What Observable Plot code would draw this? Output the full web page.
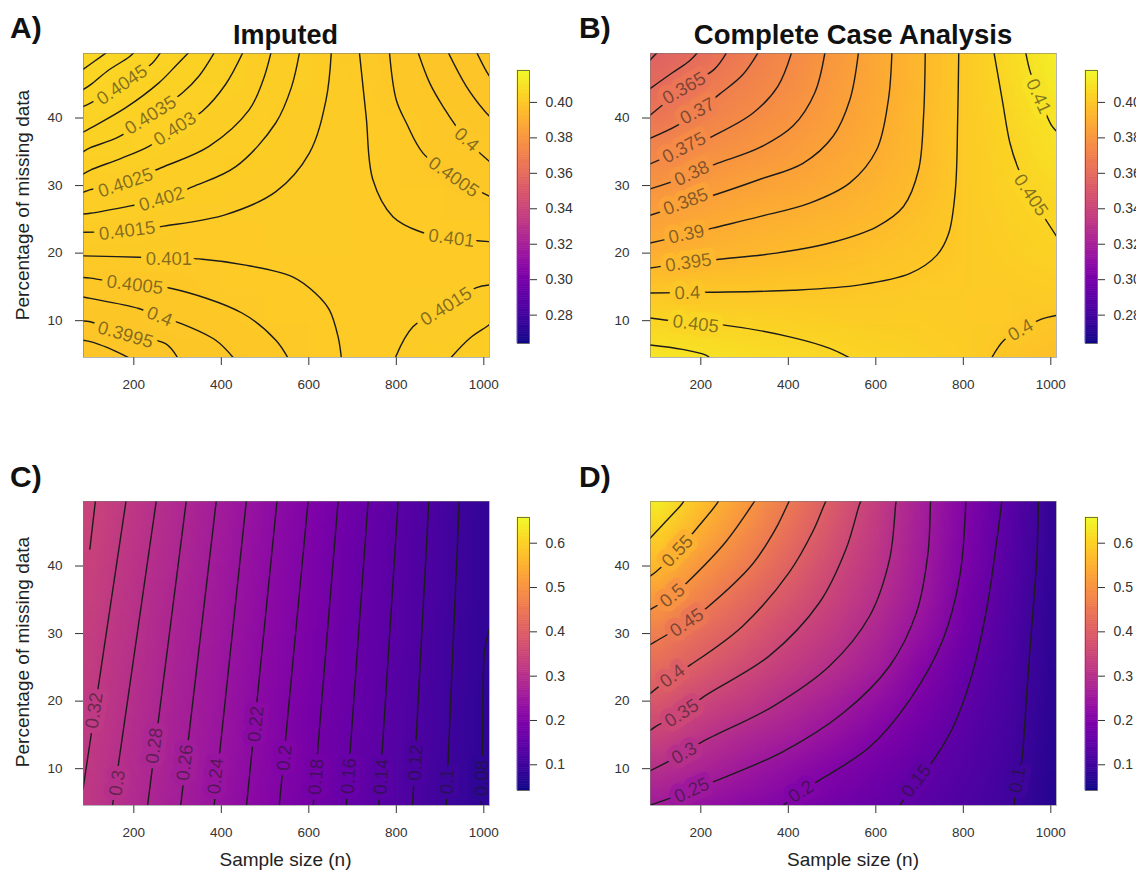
<!DOCTYPE html>
<html><head><meta charset="utf-8">
<script src="https://cdn.jsdelivr.net/npm/d3@7"></script>
<script src="https://cdn.jsdelivr.net/npm/@observablehq/plot@0.6"></script>
<style>
html,body{margin:0;padding:0;background:#fff;overflow:hidden;}
#wrap{position:relative;width:1136px;height:875px;overflow:hidden;font-family:"Liberation Sans",Arial,Helvetica,sans-serif;}
#wrap > svg{position:absolute;margin:0;overflow:visible;}
</style></head><body><div id="wrap"></div>
<script>
// ---------- data ----------
const sampleSizes = [100,200,300,400,500,600,700,800,900,1000];   // grid columns (n)
const missingPct  = [50,45,40,35,30,25,20,15,10,5];                // grid rows (%)
const xTicks = [200,400,600,800,1000];
const yTicks = [10,20,30,40];
const barTicksAB = [0.28,0.30,0.32,0.34,0.36,0.38,0.40];
const barTicksCD = [0.1,0.2,0.3,0.4,0.5,0.6];
const colorDomainAB = [0.264, 0.418];
const colorDomainCD = [0.042, 0.658];

const gridA = [
 0.4058,0.4050,0.4042,0.40337,0.4026,0.40183,0.4011,0.40039,0.39963,0.39888,
 0.4050,0.40434,0.4037,0.40306,0.40247,0.40176,0.40124,0.40046,0.39986,0.39915,
 0.40433,0.40368,0.40316,0.4027,0.40217,0.40163,0.40125,0.4006,0.4001,0.39957,
 0.40345,0.40302,0.40266,0.40227,0.40187,0.40151,0.40125,0.40075,0.40034,0.39997,
 0.40272,0.40237,0.4021,0.40185,0.4016,0.40135,0.4012,0.40089,0.40058,0.4003,
 0.40197,0.40178,0.4016,0.40145,0.40135,0.40128,0.4012,0.40101,0.40082,0.40068,
 0.40106,0.40108,0.40112,0.40115,0.4012,0.40122,0.40122,0.40115,0.40112,0.40113,
 0.40028,0.40046,0.40055,0.4007,0.40083,0.40101,0.4012,0.40125,0.40143,0.4015,
 0.39951,0.39978,0.40003,0.40028,0.40058,0.40077,0.40108,0.40135,0.40155,0.40191,
 0.3988,0.39902,0.3995,0.39985,0.4003,0.4008,0.4010,0.4015,0.40185,0.4023];
const gridB = [
 0.3552,0.3606,0.3678,0.3745,0.3811,0.3876,0.3942,0.4006,0.4071,0.4135,
 0.3602,0.3663,0.3714,0.3763,0.3821,0.3882,0.3943,0.4006,0.4061,0.4123,
 0.3661,0.3711,0.3750,0.3791,0.3839,0.3890,0.3946,0.4006,0.4052,0.4103,
 0.3730,0.3766,0.3797,0.3830,0.3864,0.3901,0.3949,0.4007,0.4045,0.4088,
 0.3797,0.3825,0.3851,0.3872,0.3893,0.3923,0.3959,0.4006,0.4036,0.4064,
 0.3857,0.3877,0.3898,0.3914,0.3930,0.3946,0.3976,0.4007,0.4030,0.4053,
 0.3907,0.3923,0.3939,0.3954,0.3967,0.3981,0.3994,0.4009,0.4025,0.4041,
 0.3988,0.3991,0.3993,0.3995,0.3999,0.4003,0.4008,0.4012,0.4015,0.4019,
 0.4052,0.4046,0.4039,0.4033,0.4027,0.4023,0.4019,0.4013,0.4007,0.3998,
 0.4107,0.4100,0.4078,0.4068,0.4055,0.4045,0.4035,0.4022,0.3990,0.3975];
const gridC = [
 0.3437,0.3150,0.2858,0.2568,0.2280,0.1997,0.1704,0.1414,0.1128,0.0840,
 0.3407,0.3118,0.2831,0.2543,0.2258,0.1977,0.1688,0.1400,0.1117,0.0842,
 0.3376,0.3086,0.2803,0.2518,0.2235,0.1956,0.1671,0.1386,0.1106,0.0844,
 0.3341,0.3054,0.2776,0.2494,0.2214,0.1937,0.1655,0.1373,0.1096,0.0835,
 0.3306,0.3022,0.2748,0.2470,0.2192,0.1917,0.1639,0.1359,0.1085,0.0825,
 0.3273,0.2992,0.2722,0.2447,0.2171,0.1899,0.1624,0.1346,0.1075,0.0812,
 0.3239,0.2962,0.2696,0.2424,0.2150,0.1880,0.1608,0.1333,0.1065,0.0799,
 0.3207,0.2935,0.2670,0.2402,0.2130,0.1862,0.1593,0.1321,0.1055,0.0795,
 0.3175,0.2907,0.2645,0.2380,0.2109,0.1844,0.1577,0.1309,0.1045,0.0790,
 0.3143,0.2881,0.2621,0.2358,0.2089,0.1827,0.1563,0.1297,0.1037,0.0785];
const gridD = [
 0.640,0.5756,0.5143,0.4513,0.3914,0.3294,0.2665,0.2038,0.1429,0.0833,
 0.5983,0.5405,0.4853,0.4308,0.3746,0.3203,0.2631,0.2003,0.1385,0.0832,
 0.561,0.5025,0.4562,0.4054,0.3561,0.3114,0.2576,0.1959,0.1338,0.0825,
 0.5092,0.4646,0.4208,0.3794,0.3397,0.2994,0.2491,0.1858,0.1292,0.0795,
 0.4611,0.4249,0.3896,0.3517,0.318,0.2799,0.2324,0.1744,0.1241,0.0776,
 0.4225,0.3889,0.3549,0.3256,0.2964,0.2603,0.2102,0.1611,0.1196,0.077,
 0.383,0.3482,0.3217,0.2946,0.2653,0.2305,0.1899,0.1494,0.1151,0.0745,
 0.3409,0.3105,0.2847,0.2612,0.2338,0.2029,0.1711,0.1401,0.111,0.073,
 0.2989,0.2743,0.2496,0.2261,0.2026,0.1783,0.1538,0.1303,0.1069,0.0706,
 0.2567,0.2365,0.218,0.1995,0.1805,0.1616,0.1424,0.1229,0.1033,0.068];

// contour lines: [level, [[n, pct], ...]]
const contoursA = [
 [0.4055,[[84,47.2],[110,48.4],[140,49.8]]],
 [0.405,[[84,44.2],[100.7,44.9],[142.7,47.1],[188.5,49.0],[202,49.8]]],
 [0.4045,[[84,41.7],[100.7,42.2],[173.3,44.9],[215,46.8],[242,48.1],[262,49.8]]],
 [0.404,[[84,37.9],[100.7,38.5],[180.9,41.5],[257.3,45.2],[300,48.0],[327,49.8]]],
 [0.4035,[[84,35.0],[100.7,35.6],[165.6,37.2],[238.2,40.4],[310.8,43.7],[350,46.3],[385,49.8]]],
 [0.403,[[84,31.7],[100.7,32.3],[170,34.0],[234.4,35.8],[294,38.4],[356.6,41.0],[410,45.0],[450,49.8]]],
 [0.4025,[[84,29.0],[100.7,29.4],[180.9,30.4],[261.1,32.6],[371.9,35.8],[463.6,41.2],[495,45.5],[514,49.8]]],
 [0.402,[[84,25.8],[100.7,25.9],[192.4,27.0],[263.4,28.0],[333.7,29.8],[433.1,32.8],[524.7,39.3],[560,44.5],[579,49.8]]],
 [0.4015,[[84,23.1],[184.7,23.3],[268.8,24.0],[410.1,25.7],[524.7,29.1],[601.2,34.8],[639.4,42.7],[651.5,49.8]]],
 [0.401,[[84,19.6],[211.5,19.4],[356.6,19.1],[448.3,18.3],[562.9,16.5],[616.4,14.0],[647,11.6],[667,7.6],[674.5,4.4]]],
 [0.4005,[[84,16.4],[100.7,16.3],[202.3,15.3],[284,14.8],[448.3,11.1],[524.7,7.1],[553,4.4]]],
 [0.4,[[84,13.5],[100.7,13.3],[211.5,11.8],[258.8,10.6],[307,9.6],[387.2,7.1],[429,4.4]]],
 [0.3995,[[84,9.95],[100.7,9.85],[180.9,7.9],[272.6,6.6],[301,4.4]]],
 [0.399,[[84,7.1],[100.7,6.9],[140,6.0],[192,4.4]]],
 [0.401,[[715.5,49.8],[731.1,40.2],[746.3,30.9],[792.2,25.4],[853.3,23.2],[925.9,22.2],[1014,21.7]]],
 [0.4005,[[784.2,49.8],[799.8,42.7],[822.7,39.3],[861,34.8],[931,31.25],[1014,28.4]]],
 [0.4,[[849.3,49.8],[876.2,45.2],[906.8,41.7],[960.3,36.8],[1014,33.5]]],
 [0.3995,[[918,49.8],[960,44.7],[1002.3,41.0],[1014,40.2]]],
 [0.399,[[983,49.8],[1006,46.9],[1014,46.1]]],
 [0.4015,[[797,4.4],[838,9.1],[914,12.1],[983.2,14.9],[1014,15.3]]],
 [0.402,[[923,4.4],[968,7.4],[1006,9.1],[1014,9.5]]]
];
const contoursB = [
 [0.355,[[84,48.6],[102,49.8]]],
 [0.36,[[84,44.35],[134.9,46.7],[173.2,48.4],[194,49.8]]],
 [0.365,[[84,40.4],[127.3,42.7],[161.7,44.4],[230.6,47.2],[260,49.8]]],
 [0.37,[[84,37.0],[146.4,38.9],[192.3,41.0],[242.1,43.5],[295.7,46.4],[332,49.8]]],
 [0.375,[[84,33.2],[157.9,35.3],[226.8,37.3],[318.7,40.7],[376.1,44.7],[408,49.8]]],
 [0.38,[[84,29.5],[165.5,31.3],[230.6,33.1],[334,35.6],[410.5,38.8],[460.3,43.7],[484,49.8]]],
 [0.385,[[84,25.6],[165.5,27.3],[230.6,28.6],[334,30.9],[433.5,33.3],[502.4,37.3],[540.7,42.7],[560.5,49.8]]],
 [0.39,[[84,21.5],[165.5,22.7],[226.8,23.7],[334,25.4],[448.8,27.4],[540.7,30.4],[601.9,35.3],[628.7,42.7],[636.8,49.8]]],
 [0.395,[[84,17.8],[173.2,18.6],[242.1,19.1],[372.3,20.0],[494.8,21.5],[601.9,23.9],[663.2,26.9],[697.6,32.3],[709.1,40.2],[713,49.8]]],
 [0.4,[[84,14.1],[219.1,14.2],[410.5,14.5],[563.7,15.3],[678.5,17.0],[739.7,19.7],[766.5,22.9],[781.9,29.4],[787.2,40.2],[789.6,49.8]]],
 [0.405,[[84,10.4],[188.5,9.6],[257.4,9.3],[410.5,7.5],[494.8,5.9],[543,4.4]]],
 [0.41,[[84,6.4],[157.9,5.75],[211.5,4.9],[222,4.4]]],
 [0.405,[[869.8,49.8],[889,42.7],[906.6,36.3],[925,32.6],[954.1,28.6],[1014,22.4]]],
 [0.41,[[942.3,49.8],[952.6,46.9],[973.3,43.2],[1001.6,38.9],[1014,38.0]]],
 [0.4,[[864,4.4],[892.9,7.1],[931.1,8.6],[977.1,10.2],[1014,10.8]]]
];
const contoursC = [
 [0.34,[[99.5,42.5],[112.5,49.8]]],
 [0.32,[[84,7.0],[182.6,49.8]]],
 [0.30,[[151,4.4],[251.7,49.8]]],
 [0.28,[[231.2,4.4],[320.2,49.8]]],
 [0.26,[[306.9,4.4],[388.8,49.8]]],
 [0.24,[[383.3,4.4],[457.5,49.8]]],
 [0.22,[[457.4,4.4],[527.6,49.8]]],
 [0.20,[[532.3,4.4],[598.7,49.8]]],
 [0.18,[[609.8,4.4],[667.2,49.8]]],
 [0.16,[[685.4,4.4],[735.8,49.8]]],
 [0.14,[[759.7,4.4],[804.4,49.8]]],
 [0.12,[[837,4.4],[874.6,49.8]]],
 [0.10,[[914,4.4],[944.1,49.8]]],
 [0.08,[[994,4.4],[997,12.6],[1002,27.5],[1014,31]]]
];
const contoursD = [
 [0.6,[[84,44.1],[96.8,45.0],[127.4,47.1],[156.4,49.15],[163,49.8]]],
 [0.55,[[84,38.5],[98.4,39.2],[146.5,42.2],[192.4,45.7],[235.9,49.15],[241.5,49.8]]],
 [0.5,[[84,33.55],[135.1,35.6],[169.4,37.6],[257.3,43.6],[318.4,49.15],[325,49.8]]],
 [0.45,[[84,28.35],[98.4,28.9],[167.9,31.6],[215.3,33.9],[318.4,40.3],[371.9,45.6],[398.7,49.15],[403.5,49.8]]],
 [0.4,[[84,21.1],[135.1,23.7],[177.1,25.4],[295.5,31.1],[402.5,39.1],[456,45.1],[482.7,49.15],[487.5,49.8]]],
 [0.35,[[84,15.65],[98.4,16.3],[156.4,18.2],[207.6,20.7],[356.6,26.7],[471.3,34.6],[532.4,42.6],[562.9,49.15],[567.5,49.8]]],
 [0.3,[[84,9.7],[98.4,10.15],[161.8,12.3],[203.8,14.0],[364.3,19.2],[494.2,25.2],[585.9,32.6],[631.7,41.1],[645.5,49.15],[647,49.8]]],
 [0.25,[[84,4.6],[179.4,6.8],[238.2,8.3],[387.2,12.5],[524.7,18.2],[631.7,25.2],[692.8,33.1],[719.6,42.1],[724.9,49.15],[725.7,49.8]]],
 [0.2,[[385,4.4],[429.2,6.6],[471.3,8.3],[585.9,13.2],[677.6,20.2],[754,29.2],[792.2,38.6],[805.9,49.8]]],
 [0.15,[[653.5,4.4],[692.8,8.2],[731,11.2],[776.9,16.2],[818.9,23.7],[853.3,33.6],[876.2,43.6],[888.5,49.8]]],
 [0.1,[[915.5,4.4],[923.6,8.3],[933.5,11.2],[945,21.2],[956.5,31.1],[967.9,41.1],[971.7,49.8]]]
];

// contour labels: [text, n, pct, angle]
const labelsA = [
 ["0.4045",173.3,44.9,-34],["0.4035",238.2,40.4,-32],["0.403",294,38.4,-33],
 ["0.4025",180.9,30.4,-19],["0.402",263.4,28.0,-17],["0.4015",184.7,23.3,-7],
 ["0.401",280.2,19.1,0],["0.4005",202.3,15.3,7],["0.4",258.8,10.6,22],
 ["0.3995",180.9,7.9,16],["0.401",925.9,22.2,7],["0.4005",931,31.25,35],
 ["0.4",960.3,36.8,42],["0.4015",914,12.1,-32]
];
const labelsB = [
 ["0.365",161.7,44.4,-30],["0.37",192.3,41.0,-28],["0.375",161.7,35.6,-28],
 ["0.38",179.3,31.8,-25],["0.385",165.5,27.6,-21],["0.39",167.1,22.8,-12],
 ["0.395",171.7,18.6,-8],["0.4",169.4,14.1,-2],["0.405",188.5,9.5,7],
 ["0.405",954.1,28.6,56],["0.41",971.7,43.2,66],["0.4",931.1,8.6,-30]
];
const labelsC = [
 ["0.32",109.5,18.6,-81.5],["0.3",162,7.9,-82],["0.28",247,13.4,-83],
 ["0.26",317,10.9,-83.5],["0.24",387,8.9,-84],["0.22",479,16.6,-84.5],
 ["0.2",544.5,11.6,-85],["0.18",617,8.8,-85.5],["0.16",691.5,8.9,-86],
 ["0.14",766,8.8,-86.5],["0.12",844,10.9,-87],["0.1",916.5,8.1,-87.5],
 ["0.08",995.5,8.6,-89]
];
const labelsD = [
 ["0.55",146.5,42.2,-46],["0.5",135.1,35.6,-40],["0.45",167.9,31.6,-34],
 ["0.4",135.1,23.7,-37],["0.35",156.4,18.2,-33],["0.3",161.8,12.3,-30],
 ["0.25",179.4,6.8,-25],["0.2",429.2,6.6,-33],["0.15",692.8,8.2,-52],
 ["0.1",923.6,8.3,-80]
];

// ---------- drawing ----------
const FONT = "Liberation Sans, Arial, Helvetica, sans-serif";
const wrap = document.getElementById("wrap");
const xDomain = [85, 1013];
const yDomain = [4.55, 49.55];

function place(el, left, top) {
  el.style.position = "absolute"; el.style.left = left + "px"; el.style.top = top + "px";
  wrap.appendChild(el);
}

function panel(grid, contours, labels, colorDomain, left, top, height, mb) {
  const lineRows = contours.flatMap(([level, pts], id) => pts.map(([x, y]) => ({id, level, x, y})));
  const labelRows = labels.map(([text, x, y, rotate]) => ({text, x, y, rotate, level: +text}));
  const svg = Plot.plot({
    width: 83 + 406 + 10, height,
    marginLeft: 83, marginRight: 10, marginTop: 53, marginBottom: mb,
    style: {fontFamily: FONT, fontSize: "13.5px", color: "#333", background: "transparent"},
    x: {domain: xDomain, ticks: xTicks, tickFormat: "d", tickSize: 8, tickPadding: 14, label: null},
    y: {domain: yDomain, ticks: yTicks, tickFormat: "d", tickSize: 8, tickPadding: 13, label: null},
    color: {type: "linear", scheme: "plasma", domain: colorDomain},
    marks: [
      Plot.raster(grid, {width: sampleSizes.length, height: missingPct.length,
        x1: 50, x2: 1050, y1: 52.5, y2: 2.5, fill: Plot.identity, imageRendering: "auto", clip: true}),
      Plot.line(lineRows, {x: "x", y: "y", z: "id", curve: "catmull-rom",
        stroke: "#1c1c1c", strokeWidth: 1.4, clip: true}),
      Plot.text(labelRows, {x: "x", y: "y", text: "text", rotate: "rotate",
        stroke: "level", strokeWidth: 11, strokeLinejoin: "round", paintOrder: "stroke",
        fill: "#1a1a1a", fillOpacity: 0.55, fontSize: 18.5, clip: true}),
      Plot.frame({stroke: "#777", strokeOpacity: 0.55})
    ]
  });
  place(svg, left, top);
}

function colorbar(colorDomain, ticks, fmt, left, top) {
  const [lo, hi] = colorDomain;
  const n = 120, step = (hi - lo) / n;
  const bands = d3.range(n).map(i => lo + i * step);
  const svg = Plot.plot({
    width: 62, height: 293, marginLeft: 0, marginRight: 50, marginTop: 10, marginBottom: 10,
    style: {fontFamily: FONT, fontSize: "14px", color: "#333", background: "transparent"},
    x: {domain: [0, 1], axis: null},
    y: {domain: colorDomain, axis: "right", ticks, tickFormat: fmt, tickSize: 7, tickPadding: 9, label: null},
    color: {type: "linear", scheme: "plasma", domain: colorDomain},
    marks: [
      Plot.rect(bands, {x1: 0, x2: 1, y1: d => d, y2: d => d + step, fill: d => d + step / 2,
        stroke: d => d + step / 2, strokeWidth: 0.6}),
      Plot.frame({stroke: "#555", strokeWidth: 0.8})
    ]
  });
  place(svg, left, top);
}

panel(gridA, contoursA, labelsA, colorDomainAB, 0, 0, 400, 43);
panel(gridB, contoursB, labelsB, colorDomainAB, 567, 0, 400, 43);
panel(gridC, contoursC, labelsC, colorDomainCD, 0, 448, 399, 42);
panel(gridD, contoursD, labelsD, colorDomainCD, 567, 448, 399, 42);

colorbar(colorDomainAB, barTicksAB, ".2f", 517, 60);
colorbar(colorDomainAB, barTicksAB, ".2f", 1085, 60);
colorbar(colorDomainCD, barTicksCD, ".1f", 517, 507);
colorbar(colorDomainCD, barTicksCD, ".1f", 1085, 507);

// ---------- titles & axis labels ----------
const texts = [
 {t: "A)", x: 10, y: 38, size: 30, bold: true, anchor: "start"},
 {t: "Imputed", x: 285.5, y: 44, size: 27, bold: true, anchor: "middle"},
 {t: "B)", x: 579, y: 38, size: 30, bold: true, anchor: "start"},
 {t: "Complete Case Analysis", x: 853, y: 44, size: 27.5, bold: true, anchor: "middle"},
 {t: "C)", x: 10, y: 487, size: 30, bold: true, anchor: "start"},
 {t: "D)", x: 579, y: 487, size: 30, bold: true, anchor: "start"},
 {t: "Sample size (n)", x: 285.5, y: 866, size: 19, anchor: "middle"},
 {t: "Sample size (n)", x: 853, y: 866, size: 19, anchor: "middle"},
 {t: "Percentage of missing data", x: 29, y: 205, size: 19, anchor: "middle", rot: true},
 {t: "Percentage of missing data", x: 29, y: 652, size: 19, anchor: "middle", rot: true}
];
const ov = d3.create("svg").attr("width", 1136).attr("height", 875)
  .style("position", "absolute").style("left", "0px").style("top", "0px")
  .attr("font-family", FONT);
ov.selectAll("text").data(texts).join("text")
  .attr("transform", d => `translate(${d.x},${d.y})` + (d.rot ? " rotate(-90)" : ""))
  .attr("text-anchor", d => d.anchor)
  .attr("font-size", d => d.size)
  .attr("font-weight", d => d.bold ? "bold" : "normal")
  .attr("fill", d => d.bold ? "#111" : "#222")
  .text(d => d.t);
wrap.appendChild(ov.node());
</script></body></html>
